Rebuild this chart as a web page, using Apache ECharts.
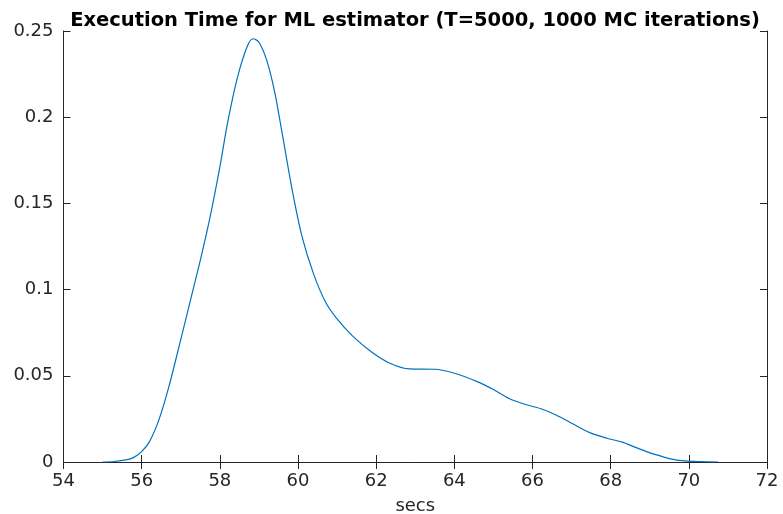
<!DOCTYPE html>
<html><head><meta charset="utf-8">
<script src="https://cdn.jsdelivr.net/npm/echarts@6/dist/echarts.min.js"></script>
<style>html,body{margin:0;padding:0;background:#fff}#c{width:783px;height:514px}</style>
</head><body><div id="c"></div>
<script>
const xSecs = [55.0,55.3,55.6,55.8,56.0,56.2,56.45,56.7,57.0,57.25,57.5,57.75,58.0,58.2,58.45,58.7,58.85,59.0,59.2,59.4,59.6,59.85,60.1,60.4,60.7,61.0,61.4,61.9,62.35,62.85,63.5,64.0,64.6,65.0,65.4,65.8,66.2,66.6,67.0,67.45,67.9,68.3,68.6,68.9,69.2,69.5,69.9,70.3,70.75];
const density = [0,0.0003,0.0012,0.0027,0.006,0.0118,0.025,0.044,0.071,0.094,0.117,0.142,0.171,0.197,0.223,0.241,0.2455,0.2435,0.233,0.215,0.19,0.158,0.131,0.109,0.093,0.083,0.073,0.0635,0.0573,0.054,0.0538,0.0515,0.0465,0.042,0.0368,0.0335,0.031,0.0273,0.0225,0.0172,0.0138,0.0115,0.0088,0.0062,0.004,0.002,0.0006,0.0002,0];
const titleText = 'Execution Time for ML estimator (T=5000, 1000 MC iterations)';
const xLabel = 'secs';

const font = '"DejaVu Sans", Verdana, sans-serif';
const axisColor = '#262626';
const chart = echarts.init(document.getElementById('c'), null, {renderer:'canvas'});
const baseAxis = {
  axisLine:{show:true, lineStyle:{color:axisColor, width:1}},
  axisTick:{show:true, inside:true, length:7, lineStyle:{color:axisColor}},
  splitLine:{show:false}
};
chart.setOption({
  animation:false,
  backgroundColor:'#fff',
  title:{text:titleText, left:410, top:6, textAlign:'center',
    textStyle:{fontFamily:font, fontWeight:'bold', fontSize:19.5, color:'#000'}},
  grid:{left:63.5, right:16, top:31, bottom:52, containLabel:false, outerBoundsMode:'none'},
  xAxis:[
    Object.assign({type:'value', min:54, max:72, interval:2, position:'bottom',
      name:xLabel, nameLocation:'middle', nameGap:35,
      nameTextStyle:{fontFamily:font, fontSize:18, color:axisColor},
      axisLabel:{fontFamily:font, fontSize:18, color:axisColor, margin:10}}, baseAxis),
    Object.assign({type:'value', min:54, max:72, interval:2, position:'top',
      axisLabel:{show:false}}, baseAxis)
  ],
  yAxis:[
    Object.assign({type:'value', min:0, max:0.25, interval:0.05, position:'left',
      axisLabel:{fontFamily:font, fontSize:18, color:axisColor, margin:10}}, baseAxis),
    Object.assign({type:'value', min:0, max:0.25, interval:0.05, position:'right',
      axisLabel:{show:false}}, baseAxis)
  ],
  series:[{
    type:'line', xAxisIndex:0, yAxisIndex:0,
    data: xSecs.map((x,i)=>[x, density[i]]),
    smooth:0.3, showSymbol:false, symbol:'none',
    lineStyle:{color:'#0072BD', width:1.2}
  }]
});
</script></body></html>
